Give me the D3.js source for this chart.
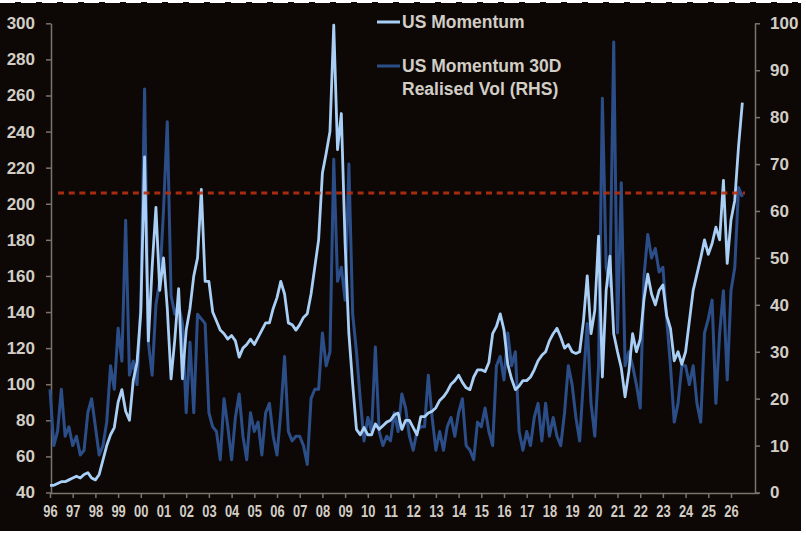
<!DOCTYPE html>
<html>
<head>
<meta charset="utf-8">
<script src="https://cdn.jsdelivr.net/npm/d3@7"></script>
<style>
  body { margin: 0; background: #ffffff; }
  svg { display: block; font-family: "Liberation Sans", Arial, sans-serif; }
</style>
</head>
<body>
<svg width="806" height="535"></svg>
<script>
// one value every two months, starting Jan 1996
var startYear = 1996,
    stepsPerYear = 6;

// US Momentum (left axis)
var momentum = [
    44, 44, 45, 46, 46, 47,
    48, 49, 48, 50, 51, 48,
    47, 50, 58, 66, 72, 76,
    90, 97, 85, 80, 102, 112,
    140, 226, 124, 165, 198, 152,
    170, 142, 103, 125, 153, 103,
    130, 142, 160, 170, 208, 157,
    157, 140, 135, 130, 128, 125,
    127, 124, 115, 120, 122, 125,
    122, 126, 130, 134, 134, 142,
    148, 157, 150, 134, 133, 130,
    133, 137, 139, 150, 165, 180,
    217, 228, 240, 299, 230, 250,
    178, 128, 100, 75, 72, 76,
    72, 72, 78, 75, 77, 79,
    80, 83, 84, 75, 80, 80,
    76, 72, 82, 82, 84, 85,
    87, 91, 93, 96, 100, 102,
    105, 101, 98, 97, 104, 108,
    108, 107, 112, 128, 132, 139,
    130, 111, 103, 97, 99, 102,
    102, 104, 108, 113, 116, 118,
    124, 128, 131, 126, 120, 122,
    118, 117, 118, 135, 160, 128,
    141, 182, 104, 152, 171, 128,
    118, 109, 93, 107, 128, 118,
    125, 147, 161, 150, 144, 152,
    155, 138, 131, 113, 118, 111,
    118, 135, 152, 161, 170, 180,
    172, 178, 187, 180, 213, 167,
    191, 202, 232, 256
];

// US Momentum 30D realised vol (right axis)
var realisedVol = [
    22, 10, 13, 22, 12, 14,
    10, 12, 8, 9, 17, 20,
    14, 8, 10, 15, 27, 22,
    35, 28, 58, 25, 28, 23,
    40, 86, 32, 25, 40, 45,
    60, 79, 42, 38, 40, 36,
    17, 32, 17, 38, 37, 36,
    17, 14, 13, 7, 20, 14,
    7, 16, 21, 12, 7, 17,
    13, 15, 8, 17, 19, 12,
    8, 17, 29, 13, 11, 12,
    12, 10, 6, 20, 22, 22,
    34, 27, 30, 71, 45, 48,
    41, 70, 38, 30, 20, 11,
    16, 13, 31, 13, 10, 12,
    11, 17, 13, 21, 18, 12,
    9, 13, 14, 14, 25, 16,
    9, 13, 9, 14, 16, 12,
    17, 20, 10, 9, 7, 15,
    14, 18, 13, 10, 27, 29,
    24, 34, 27, 30, 13, 9,
    13, 10, 16, 19, 11, 19,
    12, 16, 12, 10, 17, 27,
    23, 16, 11, 24, 36, 19,
    12, 27, 84, 48, 44, 96,
    34, 66, 27, 30, 27, 23,
    18, 46, 55, 50, 52, 47,
    48, 37, 27, 15, 19, 27,
    27, 23, 27, 19, 15, 34,
    37, 41, 19, 34, 43, 24,
    43, 48, 65, 63
];

var yearTicks = d3.range(1996, 2027);
var leftTicks = [40, 60, 80, 100, 120, 140, 160, 180, 200, 220, 240, 260, 280, 300];
var rightTicks = [0, 10, 20, 30, 40, 50, 60, 70, 80, 90, 100];
var thresholdLevel = 206;
var legendLabels = ["US Momentum", "US Momentum 30D", "Realised Vol (RHS)"];

var svg = d3.select("svg");

var lightBlue = "#a9cff6",
    darkBlue = "#2c4e88",
    textColor = "#d2cdc5",
    axisColor = "#7a746b";

// achtergrond met de witte rand erom
svg.append("rect")
    .attr("x", 0).attr("y", 2)
    .attr("width", 801).attr("height", 529)
    .attr("fill", "#0d0805");
svg.append("line")
    .attr("x1", 0).attr("x2", 806)
    .attr("y1", 1.5).attr("y2", 1.5)
    .attr("stroke", "#ffffff")
    .attr("stroke-width", 3)
    .attr("stroke-dasharray", "15,6");

// scales
var x = d3.scaleLinear().domain([1996, 2027]).range([50, 753.7]),
    yLeft = d3.scaleLinear().domain([40, 300]).range([492.5, 23.3]),
    yRight = d3.scaleLinear().domain([0, 100]).range([492.5, 23.3]);

function dateOf(i) {
    return startYear + i / stepsPerYear;
}

// axes
var gLeft = svg.append("g")
    .attr("class", "axis")
    .attr("transform", "translate(51,0)")
    .call(d3.axisLeft(yLeft).tickValues(leftTicks).tickSize(5).tickSizeOuter(0).tickPadding(11));

var gRight = svg.append("g")
    .attr("class", "axis")
    .attr("transform", "translate(755,0)")
    .call(d3.axisRight(yRight).tickValues(rightTicks).tickSize(5).tickSizeOuter(0).tickPadding(10));

var gBottom = svg.append("g")
    .attr("class", "axis")
    .attr("transform", "translate(0,493)")
    .call(d3.axisBottom(x).tickValues(yearTicks).tickSize(5).tickSizeOuter(0).tickPadding(7)
        .tickFormat(function (d) { return String(d).slice(2); }));

// bottom axis line runs a bit past the right axis
gBottom.select(".domain").attr("d", "M51,0.5H759");

svg.selectAll(".axis .domain")
    .attr("stroke", axisColor)
    .attr("stroke-width", 1.5);
svg.selectAll(".axis .tick line")
    .attr("stroke", axisColor)
    .attr("stroke-width", 1.5);
svg.selectAll(".axis text")
    .attr("fill", textColor)
    .attr("font-size", 17)
    .attr("font-weight", "bold");
gBottom.selectAll("text")
    .attr("transform", "scale(0.76,1)");

// lines
var volLine = d3.line()
    .x(function (d, i) { return x(dateOf(i)); })
    .y(function (d) { return yRight(d); });

var momLine = d3.line()
    .x(function (d, i) { return x(dateOf(i)); })
    .y(function (d) { return yLeft(d); });

svg.append("path")
    .datum(realisedVol)
    .attr("fill", "none")
    .attr("stroke", darkBlue)
    .attr("stroke-width", 3)
    .attr("stroke-linejoin", "round")
    .attr("d", volLine);

svg.append("path")
    .datum(momentum)
    .attr("fill", "none")
    .attr("stroke", lightBlue)
    .attr("stroke-width", 2.8)
    .attr("stroke-linejoin", "round")
    .attr("d", momLine);

// rode stippellijn
svg.append("line")
    .attr("x1", 58).attr("x2", 745)
    .attr("y1", yLeft(thresholdLevel)).attr("y2", yLeft(thresholdLevel))
    .attr("stroke", "#b8300f")
    .attr("stroke-width", 3)
    .attr("stroke-opacity", 0.9)
    .attr("stroke-dasharray", "6,4.7");

// legend
var legend = svg.append("g")
    .attr("font-size", 17.5)
    .attr("font-weight", "bold")
    .attr("fill", textColor);

legend.append("line")
    .attr("x1", 377).attr("x2", 400).attr("y1", 22).attr("y2", 22)
    .attr("stroke", lightBlue).attr("stroke-width", 3);
legend.append("text").attr("x", 402).attr("y", 28).text(legendLabels[0]);

legend.append("line")
    .attr("x1", 377).attr("x2", 400).attr("y1", 66).attr("y2", 66)
    .attr("stroke", darkBlue).attr("stroke-width", 3);
legend.append("text").attr("x", 402).attr("y", 72).text(legendLabels[1]);
legend.append("text").attr("x", 402).attr("y", 95).text(legendLabels[2]);
</script>
</body>
</html>
